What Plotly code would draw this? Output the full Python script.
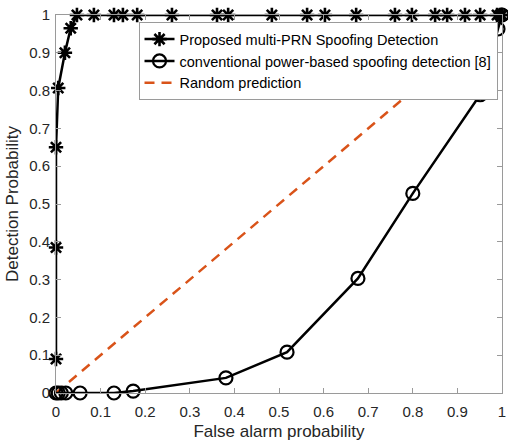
import plotly.graph_objects as go

# Proposed multi-PRN Spoofing Detection (stars)
prop_pfa = [0, 0, 0, 0.005, 0.02, 0.033, 0.047, 0.085, 0.130, 0.150, 0.182, 0.260,
            0.361, 0.386, 0.484, 0.563, 0.603, 0.673, 0.760, 0.798, 0.850, 0.877,
            0.917, 0.951, 0.989, 0.996, 1.0]
prop_pd = [0.09, 0.385, 0.65, 0.807, 0.90, 0.965, 1, 1, 1, 1, 1, 1,
           1, 1, 1, 1, 1, 1, 1, 1, 1, 1,
           1, 1, 1, 1, 1]

# Conventional power-based spoofing detection [8] (circles)
conv_pfa = [0, 0.005, 0.012, 0.022, 0.054, 0.130, 0.173, 0.381, 0.518, 0.677,
            0.800, 0.951, 0.991, 1.0]
conv_pd = [0, 0, 0, 0, 0, 0, 0.005, 0.04, 0.108, 0.303,
           0.528, 0.789, 0.963, 1.0]

# Random prediction
rand_pfa = [0, 1]
rand_pd = [0, 1]

ticks = [0, 0.1, 0.2, 0.3, 0.4, 0.5, 0.6, 0.7, 0.8, 0.9, 1]
tick_text = ["0", "0.1", "0.2", "0.3", "0.4", "0.5", "0.6", "0.7", "0.8", "0.9", "1"]

FONT = "Liberation Sans, Arial, sans-serif"

fig = go.Figure()
fig.add_trace(go.Scatter(
    x=rand_pfa, y=rand_pd, mode="lines", name="Random prediction",
    line=dict(color="#D95319", width=2.5, dash="10px,7px"),
    cliponaxis=False, legendrank=3))
fig.add_trace(go.Scatter(
    x=conv_pfa, y=conv_pd, mode="lines+markers",
    name="conventional power-based spoofing detection [8]",
    line=dict(color="black", width=2.5),
    marker=dict(symbol="circle-open", size=13, color="black", line=dict(width=2.2)),
    cliponaxis=False, legendrank=2))
fig.add_trace(go.Scatter(
    x=prop_pfa, y=prop_pd, mode="lines+markers",
    name="Proposed multi-PRN Spoofing Detection",
    line=dict(color="black", width=2.5),
    marker=dict(symbol="asterisk-open", size=12, color="black", line=dict(width=2.6, color="black")),
    cliponaxis=False, legendrank=1))

axis_common = dict(
    range=[0, 1], tickvals=ticks, ticktext=tick_text,
    showgrid=False, zeroline=False, showline=True, linecolor="#9a9a9a", linewidth=1,
    mirror="ticks", ticks="inside", ticklen=5, tickcolor="#9a9a9a",
    tickfont=dict(family=FONT, size=15, color="#262626"),
)

fig.update_layout(
    width=508, height=444,
    margin=dict(l=56, r=6, t=15, b=51, autoexpand=False),
    paper_bgcolor="white", plot_bgcolor="white",
    font=dict(family=FONT, color="#262626"),
    xaxis=dict(**axis_common, ticklabelstandoff=5,
               title=dict(text="False alarm probability",
                          font=dict(family=FONT, size=17, color="#262626"), standoff=6)),
    yaxis=dict(**axis_common, ticklabelstandoff=2,
               title=dict(text="Detection Probability",
                          font=dict(family=FONT, size=17, color="#262626"), standoff=6)),
    showlegend=True,
    legend=dict(x=0.185, y=0.981, xanchor="left", yanchor="top",
                bgcolor="white", bordercolor="#9a9a9a", borderwidth=1,
                font=dict(family=FONT, size=14.5, color="black"),
                itemwidth=30, tracegroupgap=0, traceorder="normal"),
)

fig.write_html("out.html", config={"displayModeBar": False},
               post_script="document.body.style.margin='0px';")
